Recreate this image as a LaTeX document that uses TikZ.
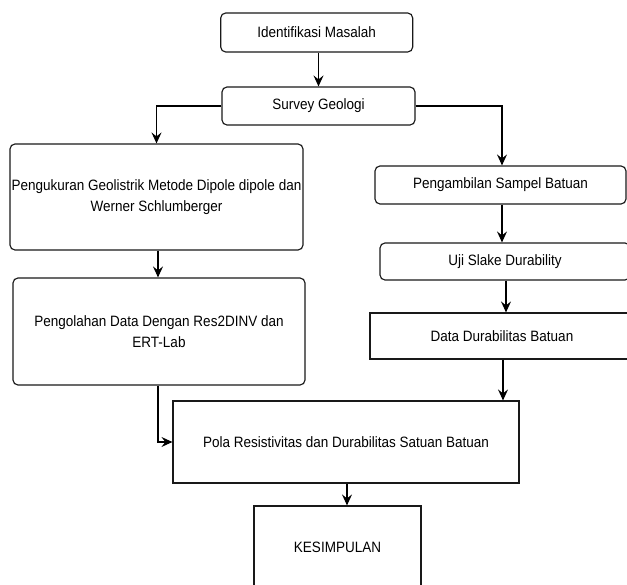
\documentclass[tikz,border=0pt]{standalone}
\usepackage{fontspec}
\setmainfont[FakeStretch=0.9]{Liberation Sans}
\usetikzlibrary{arrows.meta}
\begin{document}
\begin{tikzpicture}[x=1pt,y=-1pt,
  font=\fontsize{15}{20.5}\selectfont,
  box/.style={draw=black!90, line width=1.15pt, fill=white, inner sep=0pt, align=center},
  rbox/.style={box, rounded corners=5pt},
  conn/.style={draw=black, line width=1.1pt, -{Stealth[length=11pt,width=10pt,inset=4pt]}}
]
\useasboundingbox (0,0) rectangle (627,585);
\clip (0,0) rectangle (627,585);
\node[rbox, minimum width=192pt, minimum height=39pt] (idm) at (316.7,32.5) {Identifikasi Masalah};
\node[rbox, minimum width=193pt, minimum height=38pt] (sg) at (318.5,106) {Survey Geologi};
\node[rbox, minimum width=293pt, minimum height=106pt] (pg) at (156.5,197) {Pengukuran Geolistrik Metode Dipole dipole dan\\Werner Schlumberger};
\node[rbox, minimum width=292pt, minimum height=107pt] (po) at (159,331.5) {Pengolahan Data Dengan Res2DINV dan\\ERT-Lab};
\node[rbox, minimum width=251pt, minimum height=38pt] (ps) at (500.5,185) {Pengambilan Sampel Batuan};
\node[rbox, minimum width=250pt, minimum height=37pt] (us) at (505,261.5) {Uji Slake Durability};
\node[box, minimum width=264pt, minimum height=46pt] (dd) at (502,336) {Data Durabilitas Batuan};
\node[box, minimum width=346pt, minimum height=82pt] (pola) at (346,442) {Pola Resistivitas dan Durabilitas Satuan Batuan};
\node[box, minimum width=167pt, minimum height=82pt] (kes) at (337.5,547) {KESIMPULAN};

\draw[conn] (sg.north |- idm.south) -- (sg.north);
\draw[conn] (sg.west) -| (pg.north);
\draw[conn] (sg.east) -| ([xshift=1.5pt]ps.north);
\draw[conn] ([xshift=1.5pt]pg.south) -- ([xshift=1.5pt]pg.south |- po.north);
\draw[conn] ([xshift=1.5pt]ps.south) -- ([xshift=1.5pt]ps.south |- us.north);
\draw[conn] ([xshift=1pt]us.south) -- ([xshift=1pt]us.south |- dd.north);
\draw[conn] ([xshift=1pt]dd.south) -- ([xshift=1pt]dd.south |- pola.north);
\draw[conn] ([xshift=-1pt]po.south) |- (pola.west);
\draw[conn] ([xshift=1pt]pola.south) -- ([xshift=1pt]pola.south |- kes.north);
\end{tikzpicture}
\end{document}
